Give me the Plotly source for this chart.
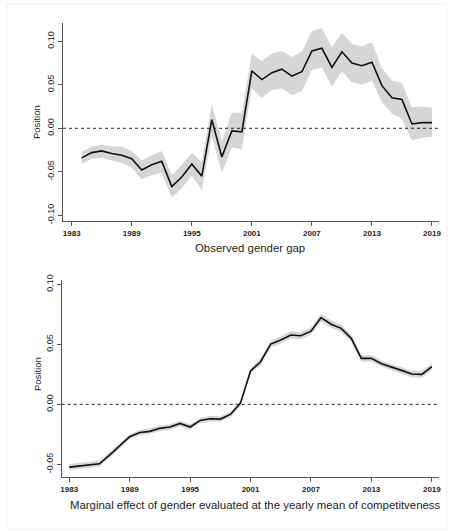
import plotly.graph_objects as go

W, H = 454, 531

years_top = list(range(1984, 2020))
gap_obs = [-0.034, -0.028, -0.026, -0.029, -0.031, -0.035, -0.048, -0.042, -0.038, -0.067,
           -0.056, -0.041, -0.055, 0.010, -0.033, -0.003, -0.004, 0.066, 0.056, 0.064,
           0.068, 0.060, 0.065, 0.089, 0.092, 0.070, 0.088, 0.075, 0.072, 0.076,
           0.049, 0.035, 0.033, 0.005, 0.0065, 0.0065]
gap_lo = [-0.041, -0.035, -0.034, -0.037, -0.040, -0.045, -0.059, -0.054, -0.051, -0.080,
          -0.069, -0.055, -0.071, -0.009, -0.051, -0.022, -0.024, 0.046, 0.035, 0.044,
          0.046, 0.038, 0.043, 0.067, 0.070, 0.048, 0.065, 0.053, 0.050, 0.055,
          0.030, 0.017, 0.011, -0.014, -0.011, -0.010]
gap_hi = [-0.027, -0.021, -0.019, -0.021, -0.021, -0.026, -0.037, -0.031, -0.026, -0.054,
          -0.042, -0.028, -0.039, 0.028, -0.015, 0.018, 0.018, 0.086, 0.077, 0.086,
          0.089, 0.082, 0.088, 0.112, 0.115, 0.093, 0.110, 0.097, 0.094, 0.099,
          0.069, 0.055, 0.052, 0.024, 0.025, 0.024]

years_bot = list(range(1983, 2020))
me = [-0.0523, -0.0514, -0.0503, -0.0495, -0.0423, -0.0348, -0.0270, -0.0234, -0.0225, -0.0200,
      -0.0189, -0.0159, -0.0189, -0.0134, -0.0120, -0.0123, -0.0084, 0.0010, 0.0278, 0.0355,
      0.0502, 0.0536, 0.0578, 0.0572, 0.0610, 0.0722, 0.0667, 0.0633, 0.0550, 0.0383,
      0.0383, 0.0339, 0.0308, 0.0283, 0.0253, 0.0250, 0.0314]
me_lo = [-0.0548, -0.0538, -0.0527, -0.0519, -0.0446, -0.0371, -0.0293, -0.0257, -0.0248, -0.0223,
         -0.0212, -0.0182, -0.0212, -0.0157, -0.0143, -0.0146, -0.0107, -0.0013, 0.0253, 0.0328,
         0.0474, 0.0507, 0.0548, 0.0542, 0.0580, 0.0690, 0.0636, 0.0603, 0.0521, 0.0356,
         0.0356, 0.0313, 0.0282, 0.0256, 0.0226, 0.0222, 0.0284]
me_hi = [-0.0498, -0.0490, -0.0479, -0.0471, -0.0400, -0.0325, -0.0247, -0.0211, -0.0202, -0.0177,
         -0.0166, -0.0136, -0.0166, -0.0111, -0.0097, -0.0100, -0.0061, 0.0033, 0.0303, 0.0382,
         0.0530, 0.0565, 0.0608, 0.0602, 0.0640, 0.0754, 0.0698, 0.0663, 0.0579, 0.0410,
         0.0410, 0.0365, 0.0334, 0.0310, 0.0280, 0.0278, 0.0344]

xticks = [1983, 1989, 1995, 2001, 2007, 2013, 2019]
yticks = [-0.10, -0.05, 0.00, 0.05, 0.10]
yticklabels = ["-0.10", "-0.05", "0.00", "0.05", "0.10"]
title_top = "Observed gender gap"
title_bot = "Marginal effect of gender evaluated at the yearly mean of competitveness"
ytitle = "Position"

BAND = "#d6d6d6"
AX = "#555555"
TXT = "#222222"
FONT = "Liberation Sans, Arial, sans-serif"

fig = go.Figure()

# top panel
fig.add_trace(go.Scatter(x=years_top, y=gap_hi, mode="lines", line=dict(width=0, color=BAND),
                         xaxis="x", yaxis="y", showlegend=False, hoverinfo="skip"))
fig.add_trace(go.Scatter(x=years_top, y=gap_lo, mode="lines", line=dict(width=0, color=BAND),
                         fill="tonexty", fillcolor=BAND, xaxis="x", yaxis="y", showlegend=False,
                         hoverinfo="skip"))
fig.add_trace(go.Scatter(x=years_top, y=gap_obs, mode="lines", line=dict(width=1.6, color="#111111"),
                         xaxis="x", yaxis="y", showlegend=False))

# bottom panel
fig.add_trace(go.Scatter(x=years_bot, y=me_hi, mode="lines", line=dict(width=0, color=BAND),
                         xaxis="x2", yaxis="y2", showlegend=False, hoverinfo="skip"))
fig.add_trace(go.Scatter(x=years_bot, y=me_lo, mode="lines", line=dict(width=0, color=BAND),
                         fill="tonexty", fillcolor=BAND, xaxis="x2", yaxis="y2", showlegend=False,
                         hoverinfo="skip"))
fig.add_trace(go.Scatter(x=years_bot, y=me, mode="lines", line=dict(width=1.6, color="#111111"),
                         xaxis="x2", yaxis="y2", showlegend=False))

def xax(domain, anchor, rng):
    return dict(domain=domain, anchor=anchor, range=rng, tickvals=xticks,
                ticktext=[str(t) for t in xticks], showgrid=False, zeroline=False,
                showline=True, linecolor=AX, linewidth=1, ticks="outside", ticklen=4,
                tickcolor=AX, automargin=False,
                tickfont=dict(family=FONT, size=8, color=TXT, weight="bold"))

def yax(domain, anchor, rng):
    return dict(domain=domain, anchor=anchor, range=rng, tickvals=yticks, ticktext=yticklabels,
                showgrid=False, zeroline=False, showline=True, linecolor=AX, linewidth=1,
                ticks="outside", ticklen=4, tickcolor=AX, tickangle=-90, automargin=False,
                tickfont=dict(family=FONT, size=9, color=TXT))

def ann(text, x, y, size, angle=0):
    return dict(text=text, xref="paper", yref="paper", x=x / W, y=(H - y) / H,
                xanchor="center", yanchor="middle", showarrow=False, textangle=angle,
                font=dict(family=FONT, size=size, color=TXT))

fig.update_layout(
    width=W, height=H, margin=dict(l=0, r=0, t=0, b=0),
    paper_bgcolor="white", plot_bgcolor="white",
    xaxis=xax([63 / W, 439 / W], "y", [1982.13, 2019.7]),
    yaxis=yax([(H - 221) / H, (H - 22.7) / H], "x", [-0.1066, 0.1214]),
    xaxis2=xax([61.7 / W, 439.3 / W], "y2", [1982.25, 2019.74]),
    yaxis2=yax([(H - 477.3) / H, (H - 280) / H], "x2", [-0.0608, 0.1036]),
    annotations=[
        ann(title_top, 250, 247.5, 11.4),
        ann(title_bot, 255, 505, 11.4),
        ann(ytitle, 37, 122, 9.5, -90),
        ann(ytitle, 37, 374, 9.5, -90),
    ],
    shapes=[
        dict(type="line", xref="x domain", yref="y", x0=0, x1=1, y0=0, y1=0,
             line=dict(color="#222222", width=1, dash="3px,3px")),
        dict(type="line", xref="x2 domain", yref="y2", x0=0, x1=1, y0=0, y1=0,
             line=dict(color="#222222", width=1, dash="3px,3px")),
        dict(type="rect", xref="paper", yref="paper", x0=7 / W, x1=447 / W, y0=2 / H, y1=(H - 4) / H,
             line=dict(color="#f2f2f2", width=1), layer="below"),
    ],
)

fig.write_html("out.html")
